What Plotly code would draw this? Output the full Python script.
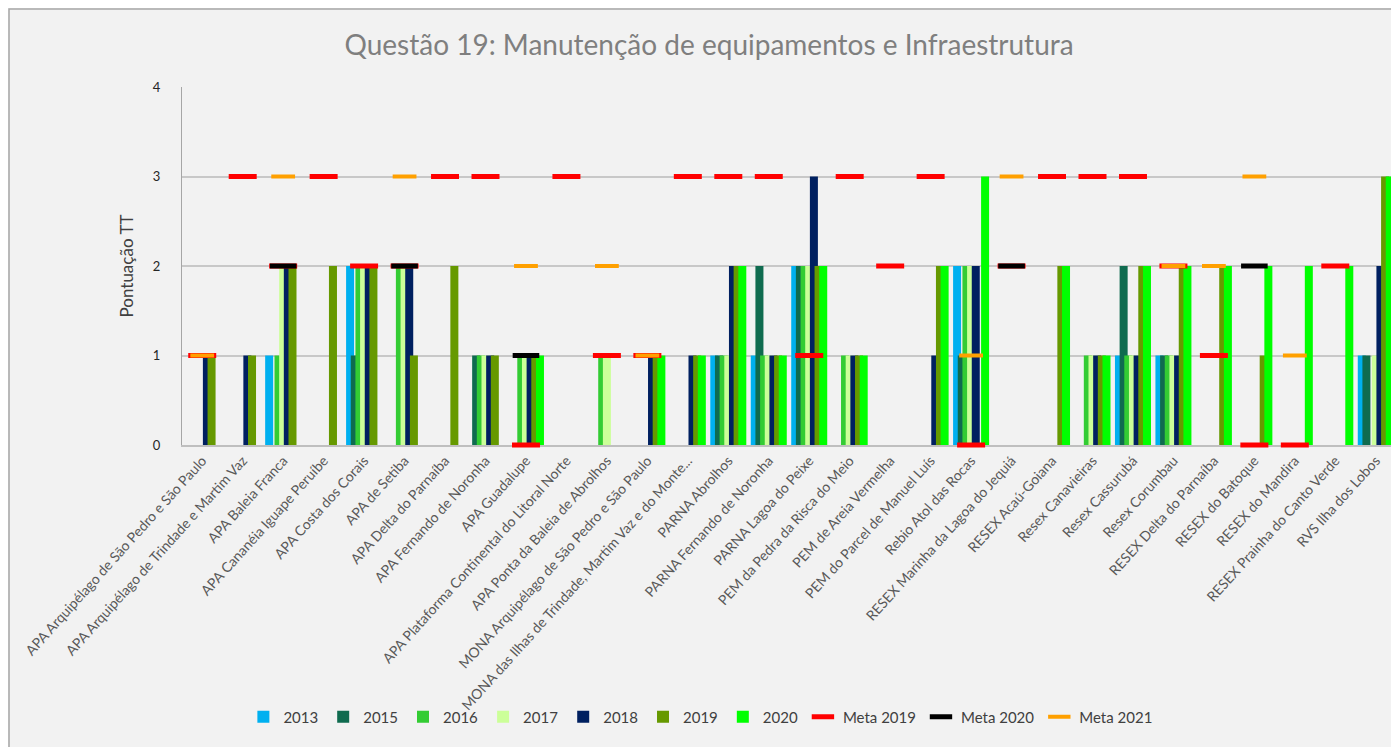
import plotly.graph_objects as go

# categorias (unidades de conservação)
categorias = [
    "APA Arquipélago de São Pedro e São Paulo",
    "APA Arquipélago de Trindade e Martim Vaz",
    "APA Baleia Franca",
    "APA Cananéia Iguape Peruíbe",
    "APA Costa dos Corais",
    "APA de Setiba",
    "APA Delta do Parnaíba",
    "APA Fernando de Noronha",
    "APA Guadalupe",
    "APA Plataforma Continental do Litoral Norte",
    "APA Ponta da Baleia de Abrolhos",
    "MONA Arquipélago de São Pedro e São Paulo",
    "MONA das Ilhas de Trindade, Martim Vaz e do Monte...",
    "PARNA Abrolhos",
    "PARNA Fernando de Noronha",
    "PARNA Lagoa do Peixe",
    "PEM da Pedra da Risca do Meio",
    "PEM de Areia Vermelha",
    "PEM do Parcel de Manuel Luís",
    "Rebio Atol das Rocas",
    "RESEX Marinha da Lagoa do Jequiá",
    "RESEX Acaú-Goiana",
    "Resex Canavieiras",
    "Resex Cassurubá",
    "Resex Corumbau",
    "RESEX Delta do Parnaíba",
    "RESEX do Batoque",
    "RESEX do Mandira",
    "RESEX Prainha do Canto Verde",
    "RVS Ilha dos Lobos",
]

N = None
#            1  2  3  4  5  6  7  8  9 10 11 12 13 14 15 16 17 18 19 20 21 22 23 24 25 26 27 28 29 30
ano_2013 = [N, N, 1, N, 2, N, N, N, N, N, N, N, N, 1, 1, 2, N, N, N, 2, N, N, N, 1, 1, N, N, N, N, 1]
ano_2015 = [N, N, N, N, 1, N, N, 1, N, N, N, N, N, 1, 2, 2, N, N, N, 1, N, N, N, 2, 1, N, N, N, N, 1]
ano_2016 = [N, N, 1, N, 2, 2, N, 1, 1, N, 1, N, N, 1, 1, 2, 1, N, N, 2, N, N, 1, 1, 1, N, N, N, N, N]
ano_2017 = [N, N, 2, N, 2, 2, N, 1, 1, N, 1, N, N, 1, 1, 2, 1, N, N, 2, N, N, 1, 1, 1, N, N, N, N, 1]
ano_2018 = [1, 1, 2, N, 2, 2, N, 1, 1, N, N, 1, 1, 2, 1, 3, 1, N, 1, 2, N, N, 1, 1, 1, N, N, N, N, 2]
ano_2019 = [1, 1, 2, 2, 2, 1, 2, 1, 1, N, N, 1, 1, 2, 1, 2, 1, N, 2, N, N, 2, 1, 2, 2, 2, 1, N, N, 3]
ano_2020 = [N, N, N, N, N, N, N, N, 1, N, N, 1, 1, 2, 1, 2, 1, N, 2, 3, N, 2, 1, 2, 2, 2, 2, 2, 2, 3]

meta_2019 = [1, 3, 2, 3, 2, 2, 3, 3, 0, 3, 1, 1, 3, 3, 3, 1, 3, 2, 3, 0, 2, 3, 3, 3, 2, 1, 0, 0, 2, N]
meta_2020 = [N, N, 2, N, N, 2, N, N, 1, N, N, N, N, N, N, N, N, N, N, N, 2, N, N, N, N, N, 2, N, N, N]
meta_2021 = [1, N, 3, N, N, 3, N, N, 2, N, 2, 1, N, N, N, N, N, N, N, 1, 3, N, N, N, 2, 2, 3, 1, N, N]

series = [
    ("2013", ano_2013, "#00B0F0"),
    ("2015", ano_2015, "#0F6B4F"),
    ("2016", ano_2016, "#33CC33"),
    ("2017", ano_2017, "#CCFF99"),
    ("2018", ano_2018, "#002060"),
    ("2019", ano_2019, "#669900"),
    ("2020", ano_2020, "#00FF00"),
]

metas = [
    ("Meta 2019", meta_2019, "#FF0000", 20, 5),
    ("Meta 2020", meta_2020, "#000000", 19, 5),
    ("Meta 2021", meta_2021, "#FFA000", 17, 4),
]

fig = go.Figure()

# barras sobrepostas como no Excel (overlap negativo)
for i, (nome, vals, cor) in enumerate(series):
    fig.add_trace(go.Bar(
        x=categorias, y=vals, name=nome,
        marker=dict(color=cor, line=dict(width=0)),
        offset=-0.445 + i * 0.1153, width=0.198,
    ))

for nome, vals, cor, tam, esp in metas:
    fig.add_trace(go.Scatter(
        x=categorias, y=vals, name=nome, mode="markers",
        marker=dict(symbol="line-ew", size=tam, color=cor,
                    line=dict(color=cor, width=esp)),
        cliponaxis=False,
    ))

# a página tem 8px de margem no body, por isso 1391x739
fig.update_layout(
    width=1391, height=739,
    barmode="overlay",
    paper_bgcolor="#F2F2F2",
    plot_bgcolor="#F2F2F2",
    font=dict(family="Lato", color="#404040"),
    margin=dict(l=174, r=3, t=79, b=302),
    title=dict(text="Questão 19: Manutenção de equipamentos e Infraestrutura",
               x=0.504, y=0.95, xanchor="center", yanchor="middle",
               font=dict(size=28, color="#7F7F7F", family="Lato")),
    showlegend=True,
    legend=dict(orientation="h", x=0.427, y=-0.76, xanchor="center", yanchor="middle",
                font=dict(size=15, color="#404040"), bgcolor="rgba(0,0,0,0)",
                itemwidth=30, tracegroupgap=0),
    shapes=[dict(type="path", xref="paper", yref="paper",
                 path="M -0.1425,-0.9 L -0.1425,1.2179 L 1.02,1.2179",
                 line=dict(color="#A6A6A6", width=1.5), layer="below")],
)

fig.update_xaxes(
    type="category", range=[-0.5, 29.5], tickangle=-48, automargin=False,
    tickfont=dict(size=14, color="#595959"),
    showline=True, linecolor="#BFBFBF", linewidth=2,
    showgrid=False, ticks="", layer="below traces",
)
fig.update_yaxes(
    range=[0, 4], dtick=1, automargin=False,
    showgrid=True, gridcolor="#C8C8C8", gridwidth=1.5,
    showline=True, linecolor="#A6A6A6", linewidth=1,
    zeroline=False, ticks="", ticklabelstandoff=18, layer="below traces",
    tickfont=dict(size=13, color="#262626"),
    title=dict(text="Pontuação TT", font=dict(size=17, color="#404040"), standoff=14),
)

fig.write_html("out.html")
